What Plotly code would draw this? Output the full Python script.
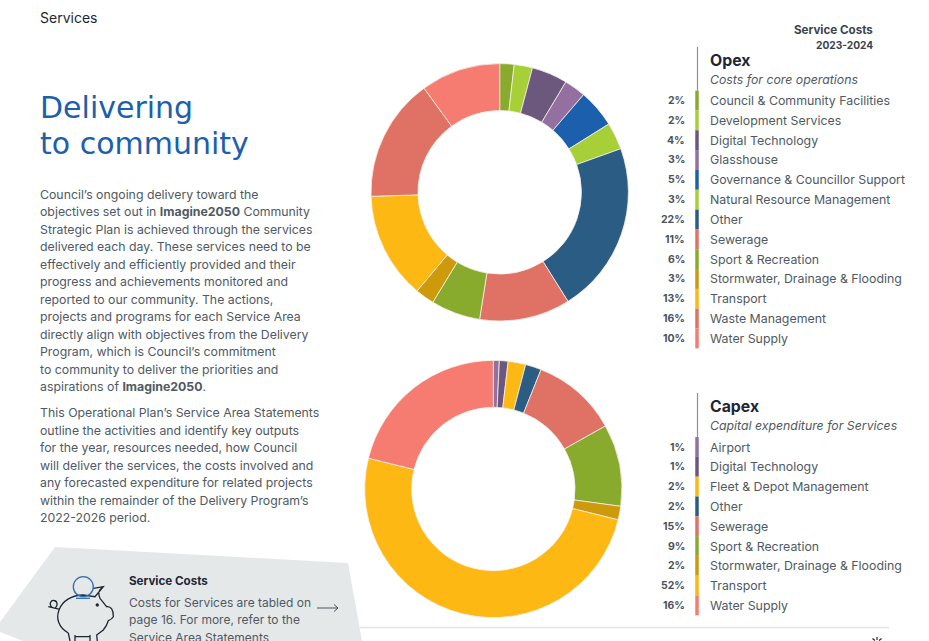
import plotly.graph_objects as go

FONT = "Inter"
DARK = "#1d2733"
TEXT = "#4f5963"

opex_categories = ["Council & Community Facilities", "Development Services", "Digital Technology", "Glasshouse",
                   "Governance & Councillor Support", "Natural Resource Management", "Other", "Sewerage",
                   "Sport & Recreation", "Stormwater, Drainage & Flooding", "Transport", "Waste Management", "Water Supply"]
opex_values = [1.8, 2.3, 4.5, 2.7, 4.8, 3.4, 21.6, 11.4, 6.2, 2.4, 13.4, 15.5, 10.0]
opex_labels = ["2%", "2%", "4%", "3%", "5%", "3%", "22%", "11%", "6%", "3%", "13%", "16%", "10%"]
opex_colors = ["#88aa2d", "#a6cf38", "#6c587d", "#9470a0", "#1c5fac", "#a6cf38", "#2a5c84", "#df7265",
               "#88aa2d", "#cd9a0b", "#fdb813", "#df7265", "#f67b70"]

capex_categories = ["Airport", "Digital Technology", "Fleet & Depot Management", "Other", "Sewerage",
                    "Sport & Recreation", "Stormwater, Drainage & Flooding", "Transport", "Water Supply"]
capex_values = [0.75, 1.1, 2.2, 2.0, 10.8, 10.3, 1.7, 50.0, 21.15]
capex_labels = ["1%", "1%", "2%", "2%", "15%", "9%", "2%", "52%", "16%"]
capex_colors = ["#9470a0", "#6c587d", "#fdb813", "#2a5c84", "#df7265", "#88aa2d", "#cd9a0b", "#fdb813", "#f67b70"]

para1 = ["Council’s ongoing delivery toward the",
         "objectives set out in <b>Imagine2050</b> Community",
         "Strategic Plan is achieved through the services",
         "delivered each day. These services need to be",
         "effectively and efficiently provided and their",
         "progress and achievements monitored and",
         "reported to our community. The actions,",
         "projects and programs for each Service Area",
         "directly align with objectives from the Delivery",
         "Program, which is Council’s commitment",
         "to community to deliver the priorities and",
         "aspirations of <b>Imagine2050</b>."]
para2 = ["This Operational Plan’s Service Area Statements",
         "outline the activities and identify key outputs",
         "for the year, resources needed, how Council",
         "will deliver the services, the costs involved and",
         "any forecasted expenditure for related projects",
         "within the remainder of the Delivery Program’s",
         "2022-2026 period."]
callout = ["Costs for Services are tabled on", "page 16. For more, refer to the", "Service Area Statements"]

W, H = 929, 641
fig = go.Figure()


def donut(values, cats, colors, cx, cy, r):
    fig.add_trace(go.Pie(values=values, labels=cats, sort=False, direction="clockwise", rotation=0, hole=0.635,
                         textinfo="none", hoverinfo="label+percent",
                         marker=dict(colors=colors, line=dict(color="#f4f0ea", width=0.8)),
                         domain=dict(x=[(cx - r) / W, (cx + r) / W], y=[1 - (cy + r) / H, 1 - (cy - r) / H])))


donut(opex_values, opex_categories, opex_colors, 499.7, 192.3, 128.7)
donut(capex_values, capex_categories, capex_colors, 493.3, 489, 128.6)

shapes = []
annos = []


def txt(x, y, s, size, color=TEXT, anchor="left", family=FONT):
    annos.append(dict(x=x, y=y, xref="x", yref="y", text=s, showarrow=False, xanchor=anchor, yanchor="middle",
                      font=dict(family=family, size=size, color=color), borderpad=0, borderwidth=0))


def line(x0, y0, x1, y1, color, width):
    shapes.append(dict(type="line", xref="x", yref="y", x0=x0, y0=y0, x1=x1, y1=y1,
                       line=dict(color=color, width=width), layer="above"))


def path(d, color=DARK, width=1.3, fill=None):
    s = dict(type="path", xref="x", yref="y", path=d, line=dict(color=color, width=width), layer="above")
    if fill:
        s["fillcolor"] = fill
    shapes.append(s)


def circle(cx, cy, r, color, width, fill=None):
    s = dict(type="circle", xref="x", yref="y", x0=cx - r, x1=cx + r, y0=cy - r, y1=cy + r,
             line=dict(color=color, width=width), layer="above")
    if fill:
        s["fillcolor"] = fill
    shapes.append(s)


def legend(cats, labels, colors, top, first, step, title, sub):
    line(697.5, top, 697.5, first - step / 2, "#8a8f95", 1.2)
    txt(710, top + 13, f"<b>{title}</b>", 15.8, DARK)
    txt(710, top + 32.5, f"<i>{sub}</i>", 12.3, TEXT)
    for i, (c, l, col) in enumerate(zip(cats, labels, colors)):
        y = first + i * step
        line(697, y - step / 2, 697, y + step / 2, col, 3.5)
        txt(684.5, y, f"<b>{l}</b>", 10.5, "#4a525b", "right")
        txt(710, y, c, 12.35, TEXT)


legend(opex_categories, opex_labels, opex_colors, 47, 100.5, 19.83, "Opex", "Costs for core operations")
legend(capex_categories, capex_labels, capex_colors, 393, 447, 19.8, "Capex", "Capital expenditure for Services")

txt(873, 30, "<b>Service Costs</b>", 11.6, "#3a434d", "right")
txt(873, 45, "<b>2023-2024</b>", 10.2, "#3a434d", "right")
txt(40, 17.5, "Services", 14, DARK)
txt(40, 107.5, "Delivering", 30, "#1c5fac", family="DejaVu Sans")
txt(40, 143, "to community", 30, "#1c5fac", family="DejaVu Sans")
for i, s in enumerate(para1):
    txt(40, 194.5 + i * 17.45, s, 12.3, TEXT)
for i, s in enumerate(para2):
    txt(40, 412.5 + i * 17.5, s, 12.3, TEXT)

# grey call-out panel
path("M55,547 L348,563 L362,641 L23,641 L0,632 L0,622 Z", color="#e5e8e9", width=0, fill="#e5e8e9")
shapes[-1]["layer"] = "below"
txt(129, 581, "<b>Service Costs</b>", 11.6, DARK)
for i, s in enumerate(callout):
    txt(129, 602.5 + i * 17.4, s, 12, TEXT)
path("M317,608 L338,608 M334,604.5 L338,608 L334,611.5", color="#4a525b", width=1)
line(360, 627.5, 889, 627.5, "#e2e4e5", 1.3)

# piggy-bank icon
path("M68.3,633 L70,641 M68.3,633 C58,627 56,618 59,610 C62,601 72,595 83.3,595 L95,596.7 L103.3,586.7 L93.3,588.3 "
     "M103.3,586.7 C98,590 98.5,595 100,598.3 C103,602 105,605 106.7,606.7 C111,606 113.5,610 113.3,616.7 "
     "C112,619 110,620 108.3,620.7 C107,625 105,628 103.3,630 L96.7,635 L97.3,641 "
     "M75,635 L75,641 M90,635 L90,641 M75,636.7 L90,636.7 "
     "M48.3,606.7 L60,609.3 M52,607.2 C48.5,604 51,600 54,600.5 C57.5,601 58,605 55.5,607.8")
circle(83.3, 586.7, 10, "#2f6eb5", 1.3)
line(76, 598.3, 90, 598.3, "#2f6eb5", 1.3)
circle(97.3, 605, 1.4, DARK, 0.5, DARK)
# footer mark
path("M877,637 L877,640 M872.5,638.5 L875,640.5 M881.5,638.5 L879,640.5", color=DARK, width=1.2)

fig.update_layout(width=W, height=H, margin=dict(l=0, r=0, t=0, b=0), showlegend=False,
                  paper_bgcolor="white", plot_bgcolor="white",
                  xaxis=dict(range=[0, W], visible=False, fixedrange=True),
                  yaxis=dict(range=[H, 0], visible=False, fixedrange=True),
                  shapes=shapes, annotations=annos)
fig.add_trace(go.Scatter(x=[0, W], y=[0, H], mode="markers", marker=dict(opacity=0), hoverinfo="skip", showlegend=False))
fig.write_html("out.html", config=dict(displayModeBar=False),
               post_script="document.body.style.margin='0';document.body.style.overflow='hidden';")
